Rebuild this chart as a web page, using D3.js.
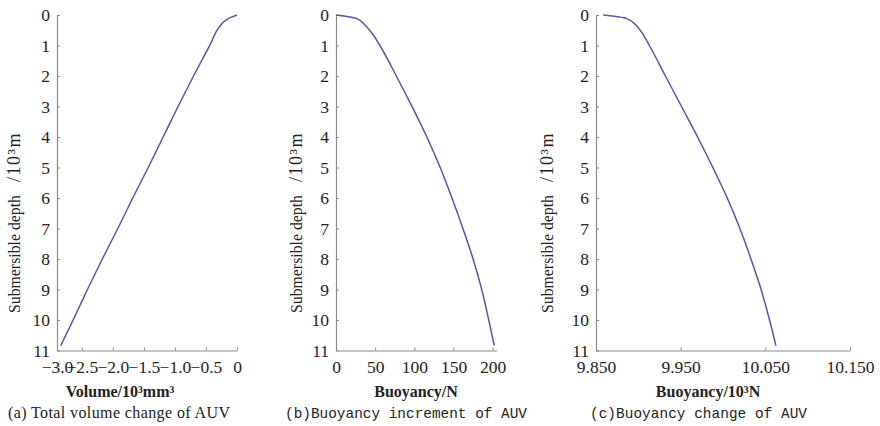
<!DOCTYPE html>
<html>
<head>
<meta charset="utf-8">
<script src="https://cdn.jsdelivr.net/npm/d3@7"></script>
<style>
  html, body { margin: 0; padding: 0; background: #fff; }
  svg { display: block; }
</style>
</head>
<body>
<svg id="chart" width="880" height="426"></svg>
<script>
// Depth ticks shared by all three panels (10^3 m)
const depthTicks = [0, 1, 2, 3, 4, 5, 6, 7, 8, 9, 10, 11];

// (a) Total volume change of AUV
const depthA  = [0, 0.08, 0.2, 0.35, 1, 2, 3, 4, 5, 6, 7, 8, 9, 10, 10.84];
const volumeA = [0, -0.1, -0.2, -0.27, -0.44, -0.70, -0.95, -1.19, -1.43, -1.68, -1.92, -2.17, -2.41, -2.64, -2.84];
const xTicksA      = [-2.9, -2.5, -2.0, -1.5, -1.0, -0.5, 0];
const xTickLabelsA = ["\u22123.0", "\u22122.5", "\u22122.0", "\u22121.5", "\u22121.0", "\u22120.5", "0"];

// (b) Buoyancy increment of AUV (N)
const depthB = [0, 0.11, 0.33, 0.6, 1, 2, 3, 4, 5, 6, 7, 8, 9, 10, 10.84];
const buoyB  = [0, 26, 37, 46, 56, 77, 97, 116, 133, 148, 162, 175, 186, 195, 202];
const xTicksB = [0, 50, 100, 150, 200];

// (c) Buoyancy change of AUV (10^3 N)
const depthC = [0, 0.11, 0.3, 0.49, 1, 2, 3, 4, 5, 6, 7, 8, 9, 10, 10.84];
const buoyC  = [9.8586, 9.886, 9.896, 9.902, 9.913, 9.932, 9.951, 9.970, 9.988, 10.005, 10.020, 10.033, 10.045, 10.055, 10.0625];
const xTicksC = [9.85, 9.95, 10.05, 10.15];

const yTitleMain = "Submersible depth";
const yTitleUnit = "/10\u00b3m";
const serif = "'Liberation Serif', 'DejaVu Serif', 'Times New Roman', serif";
const mono  = "'Liberation Mono', 'DejaVu Sans Mono', monospace";

const panels = [
  {
    depth: depthA, value: volumeA, domain: [-2.9, 0], range: [57, 237],
    ticks: xTicksA, fmt: (d, i) => xTickLabelsA[i],
    yTitleX: 14, xTitle: "Volume/10\u00b3mm\u00b3", xTitleX: 120,
    caption: "(a) Total volume change of AUV", capX: 8, capW: 222, mono: false
  },
  {
    depth: depthB, value: buoyB, domain: [0, 205], range: [336, 496.6],
    ticks: xTicksB, fmt: d3.format("d"),
    yTitleX: 296, xTitle: "Buoyancy/N", xTitleX: 416,
    caption: "(b)Buoyancy increment of AUV", capX: 285, capW: 242, mono: true
  },
  {
    depth: depthC, value: buoyC, domain: [9.85, 10.15], range: [596, 850],
    ticks: xTicksC, fmt: d3.format(".3f"),
    yTitleX: 547, xTitle: "Buoyancy/10\u00b3N", xTitleX: 708,
    caption: "(c)Buoyancy change of AUV", capX: 590, capW: 217, mono: true
  }
];

const svg = d3.select("#chart");
svg.append("rect").attr("width", 880).attr("height", 426).attr("fill", "#fff");

const y = d3.scaleLinear().domain([0, 11]).range([15, 350.5]);
const axisColor = "#8a8a8a";
const lineColor = "#5357a8";
const textColor = "#222";

panels.forEach(p => {
  const x = d3.scaleLinear().domain(p.domain).range(p.range);
  const g = svg.append("g");

  // y axis (depth increases downward), ticks pointing into the plot
  const gy = g.append("g")
    .attr("transform", `translate(${p.range[0]},0)`)
    .call(d3.axisLeft(y).tickValues(depthTicks).tickFormat(d3.format("d"))
      .tickSizeInner(-3).tickSizeOuter(0).tickPadding(7));

  // x axis along the bottom
  const gx = g.append("g")
    .attr("transform", `translate(0,${y(11)})`)
    .call(d3.axisBottom(x).tickValues(p.ticks).tickFormat(p.fmt)
      .tickSizeInner(-3).tickSizeOuter(0).tickPadding(10));

  [gx, gy].forEach(a => {
    a.attr("font-family", serif).attr("font-size", 17.5);
    a.select(".domain").attr("stroke", axisColor).attr("stroke-width", 1.2);
    a.selectAll(".tick line").attr("stroke", axisColor);
    a.selectAll(".tick text").attr("fill", textColor);
  });

  // data curve
  const line = d3.line()
    .x((d, i) => x(p.value[i]))
    .y(d => y(d))
    .curve(d3.curveMonotoneY);
  g.append("path")
    .datum(p.depth)
    .attr("d", line)
    .attr("fill", "none")
    .attr("stroke", lineColor)
    .attr("stroke-width", 1.5);

  // y axis title, read bottom-to-top
  const yt = g.append("g")
    .attr("transform", `translate(${p.yTitleX},0) rotate(-90)`)
    .attr("font-family", serif)
    .attr("fill", textColor);
  yt.append("text")
    .attr("x", -313).attr("dy", "0.35em")
    .attr("font-size", 17)
    .attr("textLength", 118).attr("lengthAdjust", "spacingAndGlyphs")
    .text(yTitleMain);
  yt.append("text")
    .attr("x", -182).attr("dy", "0.35em")
    .attr("font-size", 18)
    .attr("letter-spacing", 1.5)
    .text(yTitleUnit);

  // x axis title
  g.append("text")
    .attr("x", p.xTitleX).attr("y", 397)
    .attr("text-anchor", "middle")
    .attr("font-family", serif)
    .attr("font-size", 16).attr("font-weight", "bold")
    .attr("fill", textColor)
    .text(p.xTitle);

  // panel caption
  g.append("text")
    .attr("x", p.capX).attr("y", 418)
    .attr("font-family", p.mono ? mono : serif)
    .attr("font-size", p.mono ? 14.4 : 16)
    .attr("textLength", p.capW).attr("lengthAdjust", "spacing")
    .attr("fill", textColor)
    .text(p.caption);
});
</script>
</body>
</html>
